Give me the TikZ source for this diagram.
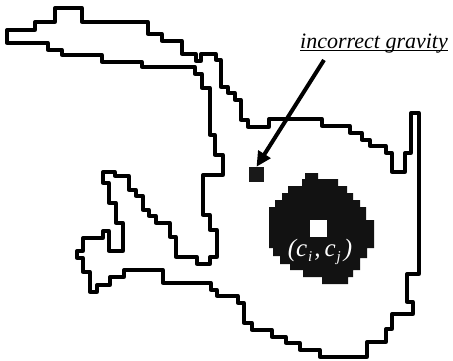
\documentclass[tikz,border=0pt]{standalone}
\usepackage{fontspec}
\setmainfont{Liberation Serif}
\usetikzlibrary{arrows.meta}
\begin{document}
\begin{tikzpicture}[x=1pt,y=-1pt,
  contour/.style={line width=3.3pt,line join=round,black},
  blob/.style={fill=black!93,draw=none},
  marker/.style={fill=black!90,draw=none,minimum size=15pt,inner sep=0pt},
  centre/.style={fill=white,draw=none,minimum size=17pt,inner sep=0pt},
  pointer/.style={line width=4pt,-{Triangle[length=15pt,width=14pt]},shorten >=0pt},
  lbl/.style={inner sep=0pt,font=\fontsize{22}{22}\selectfont\itshape}]
\useasboundingbox (0,0) rectangle (453,360);

% region contour
\draw[contour]
  (7,30) -- (35,30) -- (35,22) -- (55,22) -- (55,8) -- (82,8) -- (82,22)
  -- (148,22) -- (148,34) -- (162,34) -- (162,41) -- (182,41) -- (182,54)
  -- (196,54) -- (196,61) -- (201,61) -- (201,54) -- (216,54) -- (216,60)
  -- (221,60) -- (221,87) -- (228,87) -- (228,93) -- (235,93) -- (235,100)
  -- (241,100) -- (241,120) -- (248,120) -- (248,127) -- (269,127) -- (269,119)
  -- (322,119) -- (322,126) -- (350,126) -- (350,133) -- (362,133) -- (362,140)
  -- (370,140) -- (370,146) -- (386,146) -- (386,153) -- (392,153) -- (392,172)
  -- (405,172) -- (405,153) -- (411,153) -- (411,113) -- (419,113) -- (419,274)
  -- (407,274) -- (407,302) -- (413,302) -- (413,314) -- (392,314) -- (392,329)
  -- (386,329) -- (386,342) -- (367,342) -- (367,357) -- (320,357) -- (320,350)
  -- (300,350) -- (300,343) -- (286,343) -- (286,337) -- (272,337) -- (272,330)
  -- (252,330) -- (252,323) -- (244,323) -- (244,303) -- (238,303) -- (238,296)
  -- (217,296) -- (217,290) -- (211,290) -- (211,283) -- (163,283) -- (163,270)
  -- (124,270) -- (124,277) -- (110,277) -- (110,285) -- (97,285) -- (97,292)
  -- (90,292) -- (90,272) -- (83,272) -- (83,258) -- (77,258) -- (77,251)
  -- (83,251) -- (83,238) -- (103,238) -- (103,231) -- (109,231) -- (109,251)
  -- (123,251) -- (123,223) -- (116,223) -- (116,203) -- (109,203) -- (109,183)
  -- (103,183) -- (103,172) -- (115,172) -- (115,176) -- (129,176) -- (129,190)
  -- (136,190) -- (136,196) -- (143,196) -- (143,210) -- (149,210) -- (149,216)
  -- (156,216) -- (156,223) -- (170,223) -- (170,237) -- (176,237) -- (176,257)
  -- (197,257) -- (197,264) -- (210,264) -- (210,257) -- (217,257) -- (217,230)
  -- (210,230) -- (210,215) -- (203,215) -- (203,175) -- (223,175) -- (223,155)
  -- (215,155) -- (215,135) -- (210,135) -- (210,88) -- (202,88) -- (202,74)
  -- (195,74) -- (195,67) -- (142,67) -- (142,62) -- (102,62) -- (102,55)
  -- (62,55) -- (62,50) -- (48,50) -- (48,43) -- (7,43) -- cycle;

% pixelated blob around the true centre
\fill[blob]
  (305,173) -- (318,173) -- (318,179) -- (338,179) -- (338,186) -- (347,186)
  -- (347,193) -- (353,193) -- (353,200) -- (360,200) -- (360,207) -- (366,207)
  -- (366,220) -- (374,220) -- (374,248) -- (367,248) -- (367,258) -- (360,258)
  -- (360,270) -- (353,270) -- (353,277) -- (348,277) -- (348,284) -- (322,284)
  -- (322,277) -- (303,277) -- (303,270) -- (290,270) -- (290,264) -- (280,264)
  -- (280,256) -- (273,256) -- (273,248) -- (269,248) -- (269,207) -- (275,207)
  -- (275,200) -- (282,200) -- (282,193) -- (288,193) -- (288,186) -- (302,186)
  -- (302,179) -- (305,179) -- cycle;

\node[centre] (cc) at (318,228) {};
\node[inner sep=0pt,text=white,font=\fontsize{25}{25}\selectfont\itshape] (cclbl) at (320,252)
  {(c\kern1pt\raisebox{-5pt}{\fontsize{15}{15}\selectfont i}\kern2pt,\kern4pt c\kern1pt\raisebox{-5pt}{\fontsize{15}{15}\selectfont j}\kern3pt)};

% wrong centre of gravity
\node[marker] (grav) at (256.5,174.5) {};

% caption and pointer
\node[lbl,anchor=base west] (cap) at (300,48) {incorrect gravity};
\draw[line width=1.1pt] ([yshift=-2.5pt]cap.base west) -- ([yshift=-2.5pt]cap.base east);
\coordinate (tail) at (324,60);
\draw[pointer] (tail) -- (grav.north);
\end{tikzpicture}
\end{document}
